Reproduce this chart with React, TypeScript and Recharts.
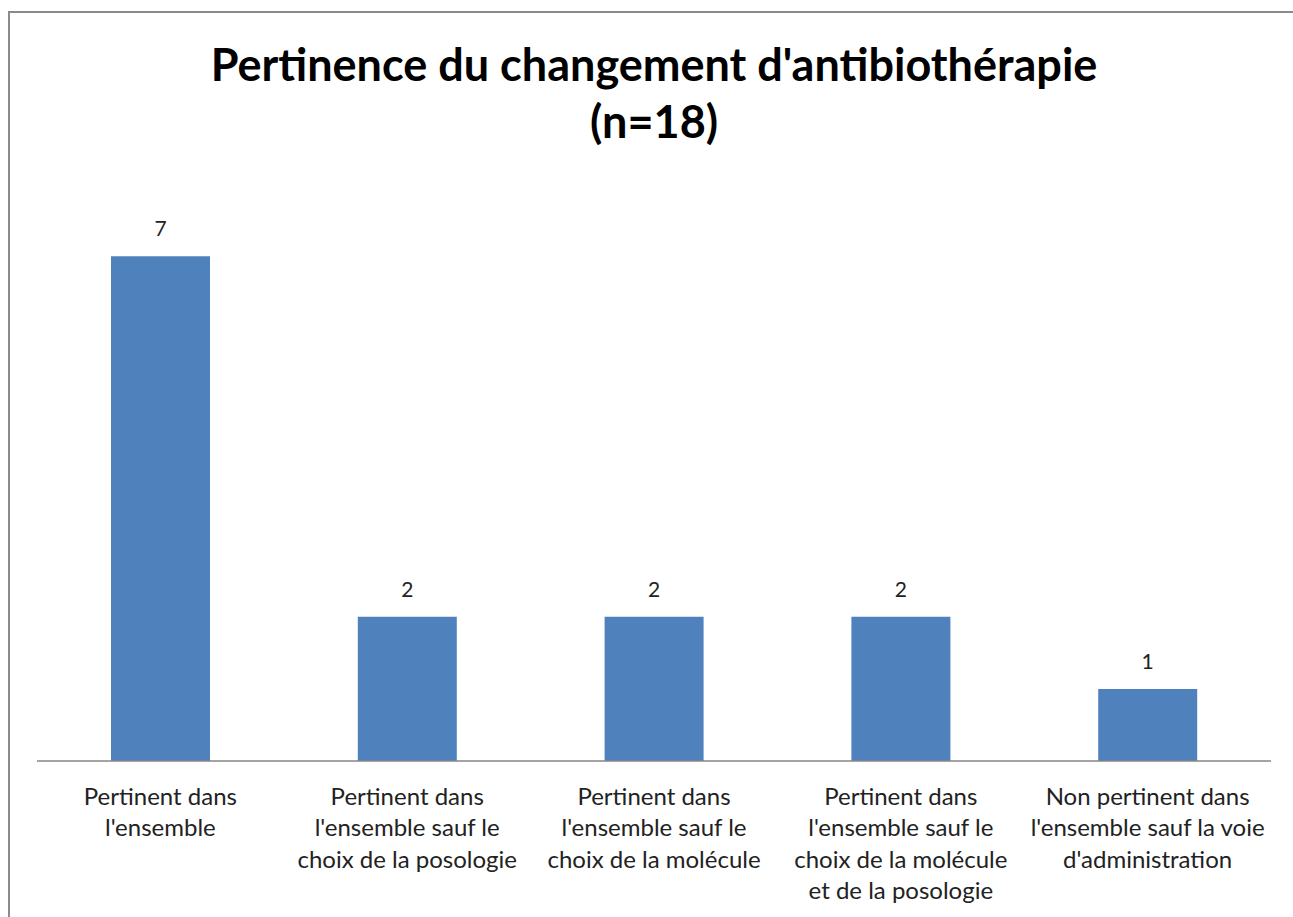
import React from "react";
import { BarChart, Bar, XAxis, YAxis, LabelList } from "recharts";

const categories = [
  "Pertinent dans\nl'ensemble",
  "Pertinent dans\nl'ensemble sauf le\nchoix de la posologie",
  "Pertinent dans\nl'ensemble sauf le\nchoix de la molécule",
  "Pertinent dans\nl'ensemble sauf le\nchoix de la molécule\net de la posologie",
  "Non pertinent dans\nl'ensemble sauf la voie\nd'administration",
];
const counts = [7, 2, 2, 2, 1];

const data = categories.map((c, i) => ({ name: c, value: counts[i] }));

const FONT = "Lato, 'Open Sans', sans-serif";

function MultiTick(props: any) {
  const { x, y, payload } = props;
  const lines = String(payload.value).split("\n");
  return (
    <g transform={`translate(${x},${y})`}>
      <text textAnchor="middle" fill="#222" fontSize={24} fontFamily={FONT}>
        {lines.map((l, i) => (
          <tspan key={i} x={0} dy={i === 0 ? 36 : 31.3}>{l}</tspan>
        ))}
      </text>
    </g>
  );
}

export default function App() {
  return (
    <div style={{ position: "absolute", left: 0, top: 0, width: 1293, height: 917, background: "#fff", overflow: "hidden" }}>
      <div style={{ position: "absolute", left: 8, top: 11, width: 1400, height: 1000, border: "2px solid #8a8a8a" }} />
      <div
        style={{
          position: "absolute", left: 0, top: 36, width: 1308, textAlign: "center",
          fontFamily: FONT, fontWeight: 700, fontSize: 45, lineHeight: "57px", color: "#000",
        }}
      >
        Pertinence du changement d'antibiothérapie<br />(n=18)
      </div>
      <div style={{ position: "absolute", left: 0, top: 0 }}>
        <BarChart width={1293} height={917} data={data} margin={{ top: 184, right: 22, bottom: 126, left: 37 }}>
          <YAxis hide domain={[0, 8]} />
          <XAxis dataKey="name" axisLine={{ stroke: "#868686", strokeWidth: 1.5 }} tickLine={false} interval={0} tick={<MultiTick />} />
          <Bar dataKey="value" fill="#4F81BD" isAnimationActive={false} barSize={99}>
            <LabelList dataKey="value" position="top" offset={20} fill="#222" fontSize={21} fontFamily={FONT} />
          </Bar>
        </BarChart>
      </div>
    </div>
  );
}
